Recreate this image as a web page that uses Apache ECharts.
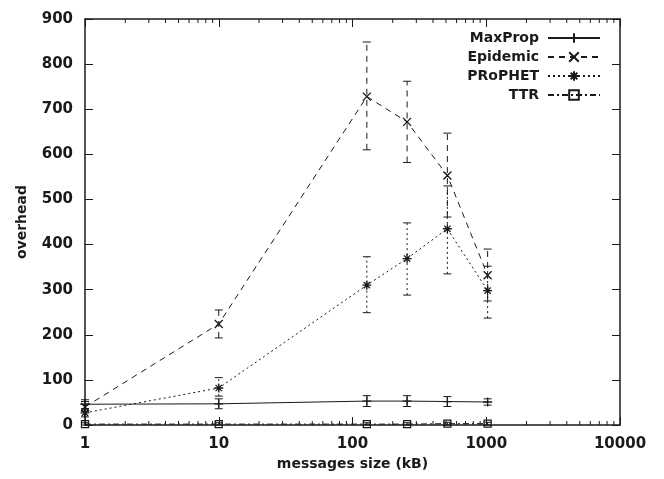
<!DOCTYPE html>
<html>
<head>
<meta charset="utf-8">
<script src="https://cdn.jsdelivr.net/npm/echarts@6/dist/echarts.min.js"></script>
<style>
  html, body { margin: 0; padding: 0; background: #fff; }
  #chart { width: 664px; height: 479px; }
</style>
</head>
<body>
<div id="chart"></div>
<script>
// message sizes (kB)
var sizes = [1, 10, 128, 256, 512, 1024];

var maxpropMean = [46, 47, 53, 53, 52, 51];
var maxpropLow  = [36, 36, 41, 41, 41, 44];
var maxpropHigh = [56, 58, 65, 65, 63, 58];

var epidemicMean = [40, 224, 728, 672, 553, 332];
var epidemicLow  = [30, 193, 610, 582, 461, 275];
var epidemicHigh = [52, 255, 849, 762, 647, 390];

var prophetMean = [27, 82, 310, 369, 435, 298];
var prophetLow  = [18, 64, 249, 288, 335, 237];
var prophetHigh = [36, 105, 373, 448, 530, 352];

var ttrMean = [2, 2, 2, 2, 3, 3];
var ttrLow  = [0, 0, 0, 0, 0, 0];
var ttrHigh = [5, 5, 5, 5, 6, 6];

var yTicks = [0, 900, 100]; // min, max, step
var minorX = [2, 3, 4, 5, 6, 7, 8, 9, 20, 30, 40, 50, 60, 70, 80, 90,
              200, 300, 400, 500, 600, 700, 800, 900, 2000, 3000, 4000, 5000, 6000, 7000, 8000, 9000];

var ink = '#1a1a1a';
var font = 'DejaVu Sans';

function pairs(xs, ys) {
    return xs.map(function (x, i) { return [x, ys[i]]; });
}
function triples(xs, lo, hi) {
    return xs.map(function (x, i) { return [x, lo[i], hi[i]]; });
}

// vertical error bar with small caps
function errRender(dash) {
    return function (params, api) {
        var x = api.value(0);
        var a = api.coord([x, api.value(1)]);
        var b = api.coord([x, api.value(2)]);
        var w = 4;
        var st = { stroke: ink, lineWidth: 1, lineDash: dash };
        return {
            type: 'group',
            children: [
                { type: 'line', shape: { x1: a[0], y1: a[1], x2: b[0], y2: b[1] }, style: st },
                { type: 'line', shape: { x1: a[0] - w, y1: a[1], x2: a[0] + w, y2: a[1] }, style: { stroke: ink, lineWidth: 1 } },
                { type: 'line', shape: { x1: b[0] - w, y1: b[1], x2: b[0] + w, y2: b[1] }, style: { stroke: ink, lineWidth: 1 } }
            ]
        };
    };
}

function lineSeries(name, data, dash, symbol, size) {
    return {
        name: name,
        type: 'line',
        data: data,
        symbol: symbol,
        symbolSize: size,
        showAllSymbol: true,
        lineStyle: { color: ink, width: 1, type: dash },
        itemStyle: { color: 'rgba(0,0,0,0)', borderColor: ink, borderWidth: 1.3 },
        emphasis: { disabled: true },
        z: 3
    };
}

function errSeries(name, data, dash) {
    return {
        name: name,
        type: 'custom',
        data: data,
        encode: { x: 0, y: [1, 2] },
        renderItem: errRender(dash),
        silent: true,
        z: 2
    };
}

var plusPath = 'path://M0,5L10,5M5,0L5,10';
var crossPath = 'path://M0,0L10,10M0,10L10,0';
var starPath = 'path://M0,5L10,5M5,0L5,10M1.5,1.5L8.5,8.5M1.5,8.5L8.5,1.5';
var squarePath = 'path://M0,0L10,0L10,10L0,10Z';

var tickLabel = { color: ink, fontFamily: font, fontSize: 15, fontWeight: 'bold' };

var option = {
    backgroundColor: '#fff',
    animation: false,
    grid: { left: 85, right: 44, top: 19, bottom: 54 },
    legend: {
        orient: 'vertical',
        right: 58,
        top: 26,
        align: 'right',
        itemWidth: 52,
        itemHeight: 12,
        itemGap: 5,
        data: ['MaxProp', 'Epidemic', 'PRoPHET', 'TTR'],
        formatter: '{a|{name}}',
        textStyle: {
            color: ink, fontFamily: font, fontSize: 14, fontWeight: 'bold',
            rich: { a: { width: 78, align: 'right', padding: [0, 4, 0, 0], fontFamily: font, fontSize: 14, fontWeight: 'bold', color: ink } }
        }
    },
    xAxis: [
        {
            type: 'log', logBase: 10, min: 1, max: 10000,
            name: 'messages size (kB)', nameLocation: 'middle', nameGap: 32,
            nameTextStyle: { color: ink, fontFamily: font, fontSize: 14, fontWeight: 'bold' },
            axisLine: { onZero: false, lineStyle: { color: ink, width: 1.5 } },
            axisTick: { inside: true, length: 8, lineStyle: { color: ink } },
            axisLabel: Object.assign({ margin: 12, formatter: function (v) { return String(v); } }, tickLabel),
            splitLine: { show: false }
        },
        {
            type: 'log', logBase: 10, min: 1, max: 10000, position: 'top',
            axisLine: { onZero: false, lineStyle: { color: ink, width: 1.5 } },
            axisTick: { inside: true, length: 8, lineStyle: { color: ink } },
            axisLabel: { show: false },
            splitLine: { show: false }
        }
    ],
    yAxis: [
        {
            type: 'value', min: yTicks[0], max: yTicks[1], interval: yTicks[2],
            name: 'overhead', nameLocation: 'middle', nameGap: 56,
            nameTextStyle: { color: ink, fontFamily: font, fontSize: 14, fontWeight: 'bold' },
            axisLine: { show: true, onZero: false, lineStyle: { color: ink, width: 1.5 } },
            axisTick: { show: true, inside: true, length: 8, lineStyle: { color: ink } },
            axisLabel: Object.assign({ margin: 12 }, tickLabel),
            splitLine: { show: false }
        },
        {
            type: 'value', min: yTicks[0], max: yTicks[1], interval: yTicks[2], position: 'right',
            axisLine: { show: true, onZero: false, lineStyle: { color: ink, width: 1.5 } },
            axisTick: { show: true, inside: true, length: 8, lineStyle: { color: ink } },
            axisLabel: { show: false },
            splitLine: { show: false }
        }
    ],
    series: [
        // minor log ticks on bottom and top
        {
            name: 'minor',
            type: 'custom',
            data: minorX.map(function (v) { return [v, 0]; }),
            encode: { x: 0, y: 1 },
            silent: true,
            clip: false,
            z: 1,
            renderItem: function (params, api) {
                var b = api.coord([api.value(0), yTicks[0]]);
                var t = api.coord([api.value(0), yTicks[1]]);
                return {
                    type: 'group',
                    children: [
                        { type: 'line', shape: { x1: b[0], y1: b[1], x2: b[0], y2: b[1] - 4 }, style: { stroke: ink, lineWidth: 1 } },
                        { type: 'line', shape: { x1: t[0], y1: t[1], x2: t[0], y2: t[1] + 4 }, style: { stroke: ink, lineWidth: 1 } }
                    ]
                };
            }
        },
        errSeries('MaxProp err', triples(sizes, maxpropLow, maxpropHigh), null),
        errSeries('Epidemic err', triples(sizes, epidemicLow, epidemicHigh), [6, 5]),
        errSeries('PRoPHET err', triples(sizes, prophetLow, prophetHigh), [2, 3]),
        errSeries('TTR err', triples(sizes, ttrLow, ttrHigh), [6, 3, 2, 3]),
        lineSeries('MaxProp', pairs(sizes, maxpropMean), 'solid', plusPath, 9),
        lineSeries('Epidemic', pairs(sizes, epidemicMean), [6, 5], crossPath, 8),
        lineSeries('PRoPHET', pairs(sizes, prophetMean), [2, 3], starPath, 9),
        lineSeries('TTR', pairs(sizes, ttrMean), [6, 3, 2, 3], squarePath, 7)
    ]
};

var chart = echarts.init(document.getElementById('chart'));
chart.setOption(option);
</script>
</body>
</html>
